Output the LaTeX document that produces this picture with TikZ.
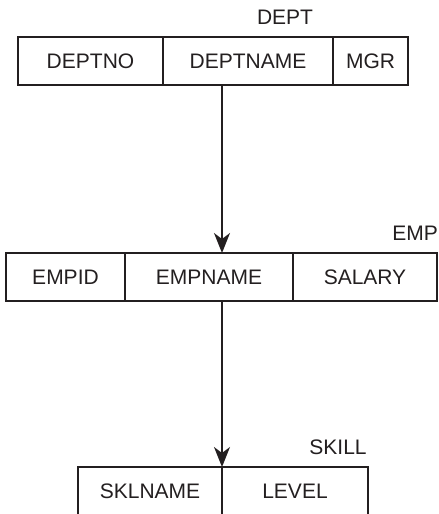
\documentclass[tikz,border=0pt]{standalone}
\usepackage{fontspec}
\setmainfont{Liberation Sans}
\usepackage{tikz}
\usetikzlibrary{arrows.meta, positioning}
\definecolor{tabline}{RGB}{35, 31, 32}

\tikzset{
    cell/.style={draw=tabline, line width=1.3pt, minimum height=48pt, inner sep=0pt, outer sep=0pt,
        text=tabline, font=\fontsize{21}{25}\selectfont},
    tabname/.style={text=tabline, font=\fontsize{21}{25}\selectfont},
    link/.style={line width=2pt, draw=tabline, -{Stealth[length=20pt, width=16pt, inset=6pt]}}
}

\begin{document}
\begin{tikzpicture}[x=1pt, y=1pt]
        \useasboundingbox (0,0) rectangle (439,514);

        % Tabella DEPT
        \node[cell, minimum width=145pt, anchor=west] (deptno) at (18,453) {DEPTNO};
        \node[cell, minimum width=170pt, right=0pt of deptno] (deptname) {DEPTNAME};
        \node[cell, minimum width=75pt, right=0pt of deptname] (mgr) {MGR};
        \node[tabname] (dept) at (285,497) {DEPT};

        % Tabella EMP
        \node[cell, minimum width=119pt, anchor=west] (empid) at (6,237) {EMPID};
        \node[cell, minimum width=168pt, right=0pt of empid] (empname) {EMPNAME};
        \node[cell, minimum width=144pt, right=0pt of empname] (salary) {SALARY};
        \node[tabname] (emp) at (415,281) {EMP};

        % Tabella SKILL
        \node[cell, minimum width=144pt, anchor=west] (sklname) at (78,23) {SKLNAME};
        \node[cell, minimum width=146pt, right=0pt of sklname] (level) {LEVEL};
        \node[tabname] (skill) at (338,67) {SKILL};

        % Frecce
        \draw[link] (deptname.south -| sklname.north east) -- (empname.north -| sklname.north east);
        \draw[link] (empname.south -| sklname.north east) -- (sklname.north east);
    \end{tikzpicture}
\end{document}
